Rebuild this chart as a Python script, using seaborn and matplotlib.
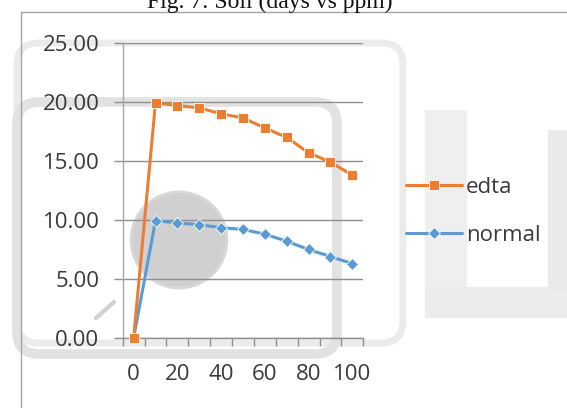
import numpy as np
import pandas as pd
import matplotlib
matplotlib.use("Agg")
import matplotlib.pyplot as plt
from matplotlib.patches import Circle, FancyBboxPatch, Rectangle
from matplotlib.ticker import FixedLocator, FormatStrFormatter
import seaborn as sns

# Soil uptake over time (ppm) for the two treatments
days = [0, 10, 20, 30, 40, 50, 60, 70, 80, 90, 100]
edta = [0.0, 19.95, 19.7, 19.5, 19.0, 18.65, 17.8, 17.0, 15.7, 14.9, 13.8]
normal = [0.0, 9.95, 9.75, 9.6, 9.35, 9.2, 8.8, 8.2, 7.5, 6.9, 6.3]
series_names = ["edta", "normal"]
x_tick_labels = ["0", "20", "40", "60", "80", "100"]
y_ticks = [0, 5, 10, 15, 20, 25]
title = "Fig. 7: Soil (days vs ppm)"

df = pd.DataFrame({
    "day": days * 2,
    "ppm": edta + normal,
    "series": [series_names[0]] * len(days) + [series_names[1]] * len(days),
})

sns.set_theme(style="white")
plt.rcParams["font.family"] = ["Open Sans", "DejaVu Sans"]

W, H = 567, 408
fig = plt.figure(figsize=(W / 100, H / 100), dpi=100)

# Background layer in pixel coordinates (faint page marks and frame)
bg = fig.add_axes([0, 0, 1, 1], zorder=0)
bg.set_xlim(0, W)
bg.set_ylim(H, 0)
bg.axis("off")
bg.add_patch(Circle((179, 240), 48, facecolor="#d0d0d0", edgecolor="#d8d8d8", lw=2))
bg.add_patch(FancyBboxPatch((17, 43), 386, 300, boxstyle="round,pad=0,rounding_size=22",
                            facecolor="none", edgecolor="#ebebeb", lw=5))
bg.add_patch(FancyBboxPatch((17, 102), 320, 252, boxstyle="round,pad=0,rounding_size=22",
                            facecolor="none", edgecolor="#e2e2e2", lw=7))
bg.add_patch(Rectangle((425, 110), 42, 190, facecolor="#efefef", edgecolor="none"))
bg.add_patch(Rectangle((425, 287), 142, 31, facecolor="#ececec", edgecolor="none"))
bg.add_patch(Rectangle((548, 130), 19, 160, facecolor="#eaeaea", edgecolor="none"))
bg.plot([96, 114], [318, 302], color="#d0d0d0", lw=3, solid_capstyle="round")
bg.plot([20.5, 20.5, W], [H, 12, 12], color="#a6a6a6", lw=1)

ax = fig.add_axes([0.2164, 0.1716, 0.4243, 0.723], zorder=1)
ax.patch.set_alpha(0)

palette = {"edta": "#ED7D31", "normal": "#5B9BD5"}
sns.lineplot(data=df, x="day", y="ppm", hue="series", style="series",
             hue_order=series_names, style_order=series_names,
             palette=palette, markers={"edta": "s", "normal": "D"}, dashes=False,
             linewidth=2.2, markersize=6.5, markeredgewidth=0.6, ax=ax, clip_on=False)

for line in ax.lines:
    line.set_clip_on(False)
    if line.get_marker() == "D":
        line.set_markersize(6)
        line.set_zorder(2.4)
    elif line.get_marker() == "s":
        line.set_zorder(2.6)

ax.set_xlim(-5, 105)
ax.set_ylim(0, 25)
ax.set_xlabel("")
ax.set_ylabel("")

grid_c = "#8e8e8e"
for side in ["top", "right"]:
    ax.spines[side].set_visible(False)
ax.spines["left"].set_color("#a8a8a8")
ax.spines["left"].set_linewidth(1)
ax.spines["bottom"].set_color(grid_c)
ax.spines["bottom"].set_linewidth(1)

ax.set_yticks(y_ticks)
ax.yaxis.set_major_formatter(FormatStrFormatter("%.2f"))
ax.yaxis.grid(True, color=grid_c, linewidth=1)
ax.tick_params(axis="y", direction="out", length=6.3, width=1, color=grid_c,
               pad=10.5, labelsize=16, labelcolor="#3a3a3a", left=True)

ax.xaxis.set_major_locator(FixedLocator([int(t) for t in x_tick_labels]))
ax.set_xticklabels(x_tick_labels)
ax.xaxis.set_minor_locator(FixedLocator(np.arange(-5, 106, 10)))
ax.tick_params(axis="x", which="major", length=0, pad=19, labelsize=16, labelcolor="#3a3a3a")
ax.tick_params(axis="x", which="minor", direction="out", length=5.8, width=1,
               color=grid_c, bottom=True)

handles, labels = ax.get_legend_handles_labels()
ax.legend(handles, labels, loc="center left", bbox_to_anchor=(0.716, 0.4816),
          bbox_transform=fig.transFigure, frameon=False, borderpad=0, borderaxespad=0,
          handlelength=2.5, handletextpad=0.2, labelspacing=1.2,
          prop={"size": 16}, labelcolor="#3a3a3a")

fig.text(270 / W, 1 - 8 / H, title, ha="center", va="baseline",
         family=["Liberation Serif", "DejaVu Serif"], fontsize=17, color="#111111")

fig.savefig("out.png", dpi=100)
